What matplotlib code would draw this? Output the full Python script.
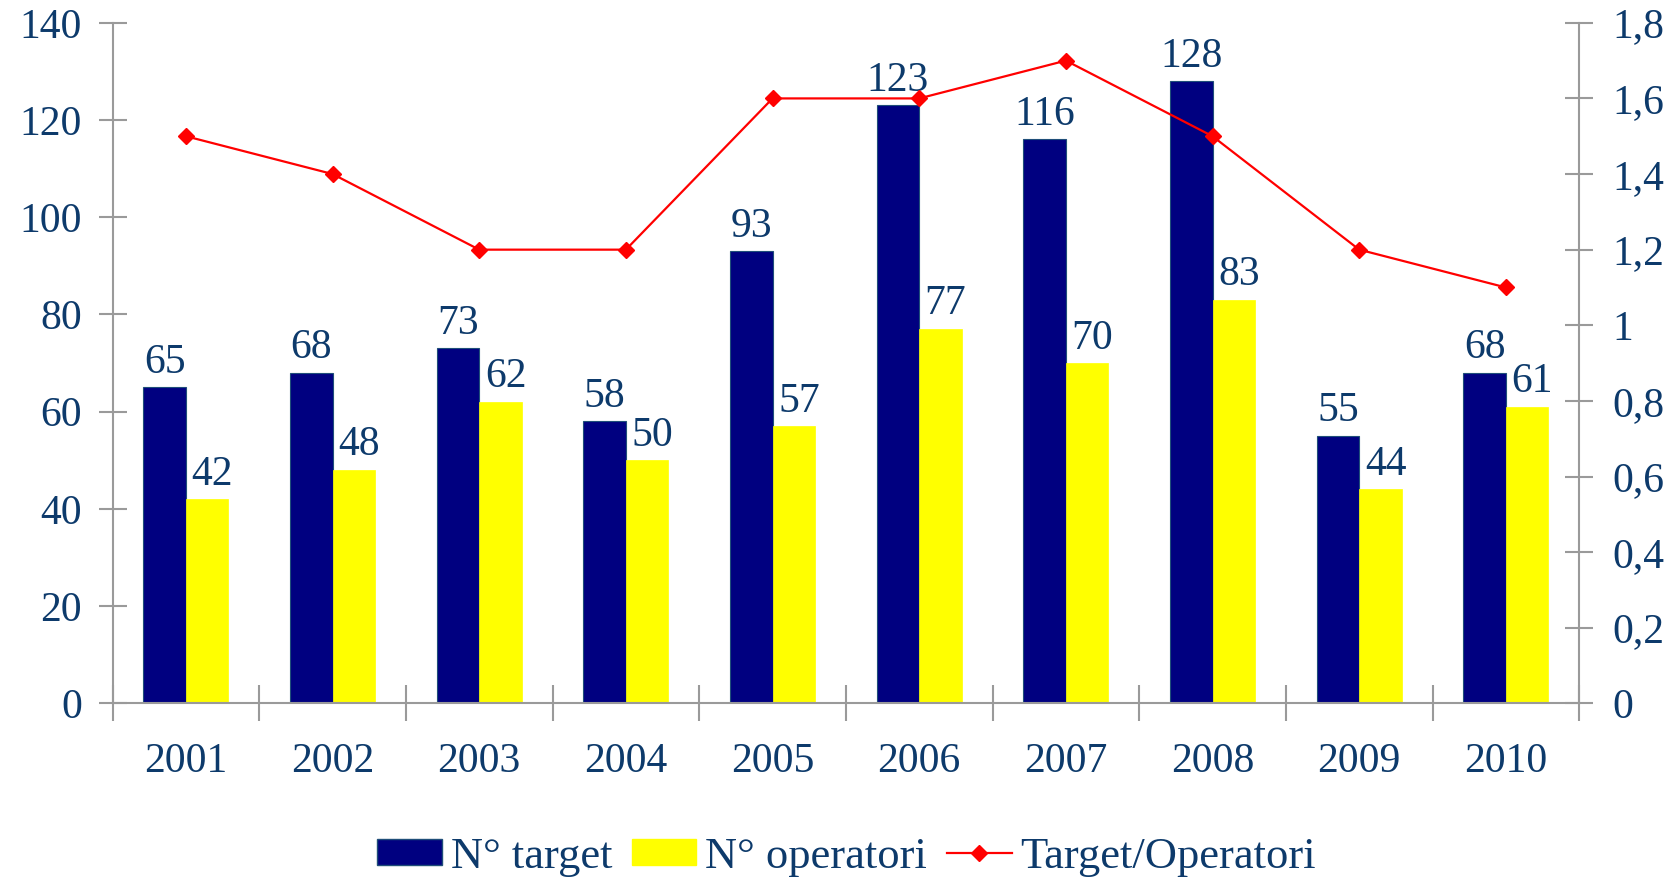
import matplotlib
matplotlib.use("Agg")
import matplotlib.pyplot as plt
from matplotlib.ticker import FuncFormatter, FixedLocator
from matplotlib.patches import Patch
from matplotlib.lines import Line2D
import numpy as np

years = ["2001", "2002", "2003", "2004", "2005", "2006", "2007", "2008", "2009", "2010"]
n_target = [65, 68, 73, 58, 93, 123, 116, 128, 55, 68]
n_operatori = [42, 48, 62, 50, 57, 77, 70, 83, 44, 61]
ratio = [1.5, 1.4, 1.2, 1.2, 1.6, 1.6, 1.7, 1.5, 1.2, 1.1]

TXT = "#0d3a6b"
GRID = "#9a9a9a"
NAVY = "#000080"
YEL = "#FFFF00"
RED = "#FF0000"
FONT = ["Liberation Serif", "DejaVu Serif"]
FS = 30

plt.rcParams["font.family"] = FONT

fig = plt.figure(figsize=(16.8, 8.77), dpi=100)
ax = fig.add_axes([0.067, 0.198, 0.873, 0.776])
ax2 = ax.twinx()

x = np.arange(len(years))
w = 0.29
b1 = ax.bar(x - w / 2, n_target, width=w, color=NAVY, edgecolor="#1f4e79", linewidth=0.8, zorder=2)
b2 = ax.bar(x + w / 2, n_operatori, width=w, color=YEL, edgecolor=YEL, linewidth=0.5, zorder=2)
for rect, v in zip(b1, n_target):
    ax.annotate(str(v), (rect.get_x() + rect.get_width() / 2, v), xytext=(0, 4),
                textcoords="offset points", ha="center", va="bottom", fontsize=FS, color=TXT)
for rect, v in zip(b2, n_operatori):
    ax.annotate(str(v), (rect.get_x() + rect.get_width() / 2 + 0.035, v), xytext=(0, 4),
                textcoords="offset points", ha="center", va="bottom", fontsize=FS, color=TXT)

ax2.plot(x, ratio, color=RED, linewidth=1.6, marker="D", markersize=8, zorder=3)

ax.set_xlim(-0.5, len(years) - 0.5)
ax.set_ylim(0, 140)
ax2.set_ylim(0, 1.8)
ax.set_yticks(np.arange(0, 141, 20))
ax2.set_yticks(np.round(np.arange(0, 1.81, 0.2), 1))
ax2.yaxis.set_major_formatter(FuncFormatter(lambda v, p: f"{v:g}".replace(".", ",")))

ax.set_xticks(x)
ax.set_xticklabels(years)
ax.xaxis.set_minor_locator(FixedLocator(np.arange(-0.5, len(years), 1.0)))
ax.tick_params(axis="x", which="major", length=0, pad=28, labelsize=FS, labelcolor=TXT)
ax.tick_params(axis="x", which="minor", direction="inout", length=26, width=1.5, color=GRID)
ax.tick_params(axis="y", direction="inout", length=20, width=1.5, color=GRID, pad=12,
               labelsize=FS, labelcolor=TXT)
ax2.tick_params(axis="y", direction="inout", length=20, width=1.5, color=GRID, pad=14,
                labelsize=FS, labelcolor=TXT)

for a in (ax, ax2):
    a.spines["top"].set_visible(False)
    for s in ("left", "right", "bottom"):
        a.spines[s].set_color(GRID)
        a.spines[s].set_linewidth(1.5)
ax.spines["right"].set_visible(False)
ax2.spines["left"].set_visible(False)
ax2.spines["bottom"].set_visible(False)

handles = [Patch(facecolor=NAVY, edgecolor="#1f4e79"),
           Patch(facecolor=YEL, edgecolor=YEL),
           Line2D([0], [0], color=RED, linewidth=1.6, marker="D", markersize=8)]
labels = ["N° target", "N° operatori", "Target/Operatori"]
fig.legend(handles, labels, loc="center", bbox_to_anchor=(0.504, 0.023), ncol=3, frameon=False,
           fontsize=32, labelcolor=TXT, handlelength=1.45, handleheight=0.52,
           handletextpad=0.2, columnspacing=0.45)

fig.savefig("out.png", dpi=100)
